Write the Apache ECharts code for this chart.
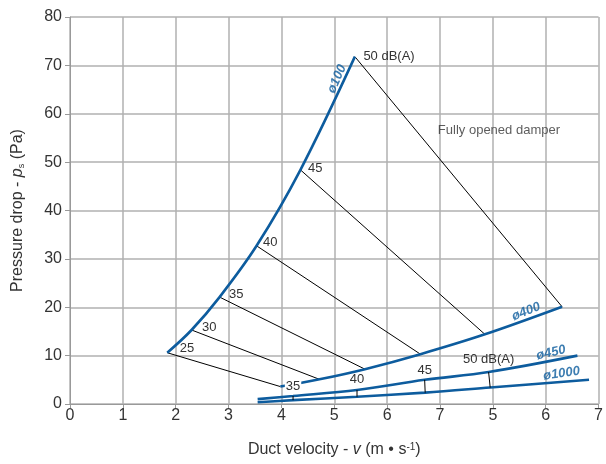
<!DOCTYPE html>
<html>
<head>
<meta charset="utf-8">
<script src="https://cdn.jsdelivr.net/npm/echarts@6/dist/echarts.min.js"></script>
<style>
  html, body { margin: 0; padding: 0; background: #fff; }
  #chart { width: 606px; height: 464px; }
</style>
</head>
<body>
<div id="chart"></div>
<script>
// tick labels of the x axis as printed (the axis runs over 11 columns)
const xTickLabels = ['0', '1', '2', '3', '4', '5', '6', '7', '5', '6', '7'];

// noise levels, dB(A)
const dbLabels = ['25', '30', '35', '40', '45', '50 dB(A)'];

// ø100 curve - points where each dB line starts
const d100V = [1.84, 2.30, 2.83, 3.53, 4.36, 5.39];
const d100P = [10.6, 15.3, 22.1, 32.7, 48.4, 71.8];

// ø400 curve - points where each dB line ends
const d400V = [3.98, 4.72, 5.58, 6.63, 7.85, 9.31];
const d400P = [3.6, 5.1, 7.2, 10.3, 14.4, 20.1];

// ø450 and ø1000 curves
const d450V = [3.55, 4.22, 5.43, 6.71, 7.92, 9.60];
const d450P = [1.0, 1.65, 2.9, 5.0, 6.6, 10.0];
const d1000V = [3.55, 4.22, 5.43, 6.72, 7.95, 9.82];
const d1000P = [0.35, 0.8, 1.5, 2.35, 3.4, 5.0];

// small marks between ø450 and ø1000
const markLabels = ['35', '40', '45', '50 dB(A)'];
const markIdx = [1, 2, 3, 4];

const BLUE = '#0d5c9e';
const TEXT = '#333';
const FONT = 'Liberation Sans, Arial, sans-serif';

const zip = (a, b) => a.map((v, i) => [v, b[i]]);

const chart = echarts.init(document.getElementById('chart'));

function curve(name, xs, ys) {
  return {
    name: name,
    type: 'line',
    smooth: 0.35,
    symbol: 'none',
    data: zip(xs, ys),
    lineStyle: { color: BLUE, width: 2.6 },
    z: 3,
    silent: true
  };
}

const series = [
  curve('ø100', d100V, d100P),
  curve('ø400', d400V, d400P),
  curve('ø450', d450V, d450P),
  curve('ø1000', d1000V, d1000P)
];

// hidden point symbol so that labels still show
const noDot = { symbol: 'circle', symbolSize: 1, showSymbol: true, itemStyle: { color: 'rgba(0,0,0,0)' } };

// dB lines from ø100 to ø400
const labelShift = [[12, -4], [10, -3], [9, -3], [6, -3], [7, -1], [8, 0]];
dbLabels.forEach((lab, i) => {
  series.push(Object.assign({
    type: 'line',
    silent: true,
    z: 2,
    lineStyle: { color: '#000', width: 1 },
    data: [
      {
        value: [d100V[i], d100P[i]],
        label: {
          show: true,
          formatter: lab,
          position: 'right',
          distance: labelShift[i][0],
          offset: [0, labelShift[i][1]],
          color: TEXT,
          fontSize: 13,
          fontFamily: FONT
        }
      },
      [d400V[i], d400P[i]]
    ]
  }, noDot));
});

// small ticks between ø1000 and ø450
const markGap = [3, 4, 2, 6];
markLabels.forEach((lab, k) => {
  const i = markIdx[k];
  series.push(Object.assign({
    type: 'line',
    silent: true,
    z: 4,
    lineStyle: { color: '#000', width: 1 },
    data: [
      [d1000V[i], d1000P[i]],
      {
        value: [d450V[i], d450P[i]],
        label: {
          show: true,
          formatter: lab,
          position: 'top',
          distance: markGap[k],
          color: TEXT,
          fontSize: 13,
          fontFamily: FONT,
          backgroundColor: k === 0 ? '#fff' : 'transparent',
          padding: k === 0 ? [1, 1, 0, 1] : 0
        }
      }
    ]
  }, noDot));
});

// curve names and the note
const curveLabel = (text, x, y, rot) => ({
  value: [x, y],
  label: {
    show: true,
    formatter: text,
    position: 'inside',
    rotate: rot,
    color: BLUE,
    fontWeight: 'bold',
    fontStyle: 'italic',
    fontSize: 13,
    fontFamily: FONT
  }
});
series.push({
  type: 'scatter',
  symbolSize: 1,
  itemStyle: { color: 'rgba(0,0,0,0)' },
  silent: true,
  z: 6,
  data: [
    curveLabel('ø100', 5.05, 67.2, 66),
    curveLabel('ø400', 8.63, 19.1, 22),
    curveLabel('ø450', 9.1, 10.6, 13),
    curveLabel('ø1000', 9.3, 6.3, 8),
    {
      value: [6.96, 56.6],
      label: {
        show: true,
        formatter: 'Fully opened damper',
        position: 'inside',
        align: 'left',
        color: TEXT,
        fontSize: 13,
        fontFamily: FONT
      }
    }
  ]
});

chart.setOption({
  animation: false,
  backgroundColor: '#fff',
  textStyle: { fontFamily: FONT },
  grid: { left: 70, right: 3, top: 17, bottom: 60 },
  xAxis: {
    type: 'value',
    min: 0,
    max: 10,
    interval: 1,
    axisLine: { show: true, lineStyle: { color: '#999', width: 1 } },
    axisTick: { show: true, length: 4, lineStyle: { color: '#999' } },
    splitLine: { show: true, lineStyle: { color: '#b0b0b0', width: 1.5 } },
    axisLabel: {
      color: TEXT,
      fontSize: 16,
      margin: 4,
      formatter: v => xTickLabels[Math.round(v)]
    },
    name: 'Duct velocity - {i|v} (m • s{sup|-1})',
    nameLocation: 'middle',
    nameGap: 38,
    nameTextStyle: {
      color: TEXT,
      fontSize: 16,
      rich: {
        i: { fontStyle: 'italic', fontSize: 16, color: TEXT },
        sup: { fontSize: 10, color: TEXT, verticalAlign: 'top', lineHeight: 16 }
      }
    }
  },
  yAxis: {
    type: 'value',
    min: 0,
    max: 80,
    interval: 10,
    axisLine: { show: true, lineStyle: { color: '#999', width: 1 } },
    axisTick: { show: true, length: 5, lineStyle: { color: '#999' } },
    splitLine: { show: true, lineStyle: { color: '#b0b0b0', width: 1.5 } },
    axisLabel: { color: TEXT, fontSize: 16, margin: 8 },
    name: 'Pressure drop - {i|p}{sub|s} (Pa)',
    nameLocation: 'middle',
    nameRotate: 90,
    nameGap: 44,
    nameTextStyle: {
      color: TEXT,
      fontSize: 16,
      rich: {
        i: { fontStyle: 'italic', fontSize: 16, color: TEXT },
        sub: { fontSize: 9, color: TEXT, verticalAlign: 'bottom', lineHeight: 16 }
      }
    }
  },
  series: series
});
</script>
</body>
</html>
